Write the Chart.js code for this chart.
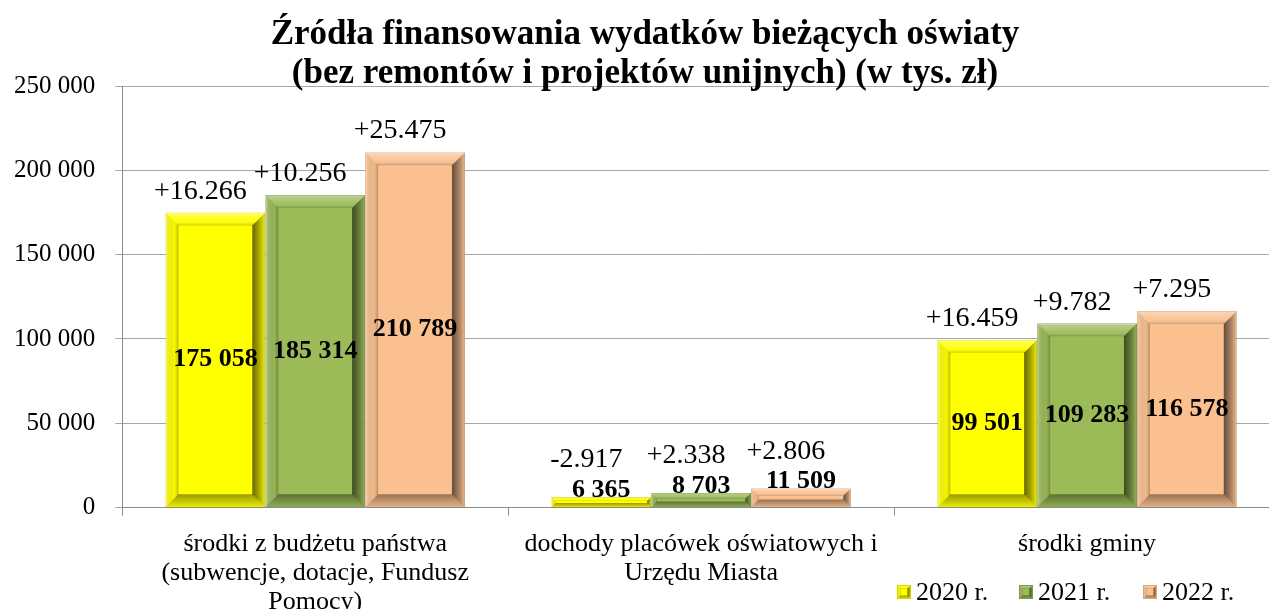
<!DOCTYPE html>
<html>
<head>
<meta charset="utf-8">
<script src="https://cdn.jsdelivr.net/npm/chart.js@4/dist/chart.umd.min.js"></script>
<style>
  html, body { margin: 0; padding: 0; background: #fff; overflow: hidden; }
  #wrap { position: relative; width: 1290px; height: 631px; }
</style>
</head>
<body>
<div id="wrap"><canvas id="chart"></canvas></div>
<script>
// data
const categories = [
  ["środki z budżetu państwa", "(subwencje, dotacje, Fundusz", "Pomocy)"],
  ["dochody placówek oświatowych i", "Urzędu Miasta"],
  ["środki gminy"]
];
const years = ["2020 r.", "2021 r.", "2022 r."];
const values2020 = [175058, 6365, 99501];
const values2021 = [185314, 8703, 109283];
const values2022 = [210789, 11509, 116578];
const changes2020 = ["+16.266", "-2.917", "+16.459"];
const changes2021 = ["+10.256", "+2.338", "+9.782"];
const changes2022 = ["+25.475", "+2.806", "+7.295"];
const titleLines = ["Źródła finansowania wydatków bieżących oświaty", "(bez remontów i projektów unijnych) (w tys. zł)"];

const SERIF = "'Liberation Serif', 'Times New Roman', serif";
const fills = ["#FFFF00", "#9BBB59", "#FAC090"];
const edges = ["#D4D400", "#7E9A48", "#D9A77A"];

function fmt(v) {
  return String(v).replace(/\B(?=(\d{3})+(?!\d))/g, " ");
}

// bevelled look of the bars
function bevel(ctx, L, T, R, B) {
  const b = Math.min(13, (B - T) / 2.5, (R - L) / 4);
  ctx.save();
  // top
  let g = ctx.createLinearGradient(0, T, 0, T + b);
  g.addColorStop(0, "rgba(255,255,255,0.35)");
  g.addColorStop(0.7, "rgba(255,255,255,0.05)");
  g.addColorStop(1, "rgba(0,0,0,0.2)");
  ctx.fillStyle = g;
  ctx.beginPath();
  ctx.moveTo(L, T); ctx.lineTo(R, T); ctx.lineTo(R - b, T + b); ctx.lineTo(L + b, T + b); ctx.closePath();
  ctx.fill();
  // left
  g = ctx.createLinearGradient(L, 0, L + b, 0);
  g.addColorStop(0, "rgba(255,255,255,0.25)");
  g.addColorStop(0.7, "rgba(0,0,0,0.03)");
  g.addColorStop(1, "rgba(0,0,0,0.25)");
  ctx.fillStyle = g;
  ctx.beginPath();
  ctx.moveTo(L, T); ctx.lineTo(L + b, T + b); ctx.lineTo(L + b, B - b); ctx.lineTo(L, B); ctx.closePath();
  ctx.fill();
  // right
  g = ctx.createLinearGradient(R - b, 0, R, 0);
  g.addColorStop(0, "rgba(0,0,0,0.6)");
  g.addColorStop(0.6, "rgba(0,0,0,0.3)");
  g.addColorStop(1, "rgba(0,0,0,0.05)");
  ctx.fillStyle = g;
  ctx.beginPath();
  ctx.moveTo(R, T); ctx.lineTo(R, B); ctx.lineTo(R - b, B - b); ctx.lineTo(R - b, T + b); ctx.closePath();
  ctx.fill();
  // bottom
  g = ctx.createLinearGradient(0, B - b, 0, B);
  g.addColorStop(0, "rgba(0,0,0,0.4)");
  g.addColorStop(1, "rgba(0,0,0,0.08)");
  ctx.fillStyle = g;
  ctx.beginPath();
  ctx.moveTo(L, B); ctx.lineTo(R, B); ctx.lineTo(R - b, B - b); ctx.lineTo(L + b, B - b); ctx.closePath();
  ctx.fill();
  ctx.restore();
}

const decor = {
  id: "decor",
  afterDatasetsDraw(chart) {
    const ctx = chart.ctx;
    const changes = [changes2020, changes2021, changes2022];
    chart.data.datasets.forEach((ds, di) => {
      const meta = chart.getDatasetMeta(di);
      meta.data.forEach((bar, i) => {
        const L = bar.x - bar.width / 2, R = bar.x + bar.width / 2;
        const T = bar.y, B = bar.base;
        bevel(ctx, L, T, R, B);
        // value label
        let vy = (T + B) / 2;
        if (B - T < 40) vy = T - 7;
        ctx.save();
        ctx.fillStyle = "#000";
        ctx.textAlign = "center";
        ctx.textBaseline = "middle";
        ctx.font = "bold 26px " + SERIF;
        ctx.fillText(fmt(ds.data[i]), bar.x, vy);
        // change label
        ctx.font = "28px " + SERIF;
        const cy = Math.min(T - 21, vy - 30);
        ctx.fillText(changes[di][i], bar.x - 15, cy);
        ctx.restore();
      });
    });
  },
  afterDraw(chart) {
    const ctx = chart.ctx;
    ctx.save();
    ctx.fillStyle = "#000";
    ctx.textAlign = "center";
    ctx.textBaseline = "middle";
    ctx.font = "bold 35px " + SERIF;
    ctx.fillText(titleLines[0], 645, 35);
    ctx.fillText(titleLines[1], 645, 74);
    // legend
    ctx.font = "26px " + SERIF;
    ctx.textAlign = "left";
    const lx = [897, 1019, 1143];
    years.forEach((y, i) => {
      ctx.fillStyle = fills[i];
      ctx.fillRect(lx[i], 585, 14, 14);
      bevel(ctx, lx[i], 585, lx[i] + 14, 599);
      ctx.strokeStyle = edges[i];
      ctx.lineWidth = 1;
      ctx.strokeRect(lx[i] + 0.5, 585.5, 13, 13);
      ctx.fillStyle = "#000";
      ctx.fillText(y, lx[i] + 19, 593);
    });
    ctx.restore();
  }
};

new Chart(document.getElementById("chart"), {
  type: "bar",
  data: {
    labels: categories,
    datasets: [
      { label: years[0], data: values2020, backgroundColor: fills[0], borderColor: edges[0], borderWidth: 1 },
      { label: years[1], data: values2021, backgroundColor: fills[1], borderColor: edges[1], borderWidth: 1 },
      { label: years[2], data: values2022, backgroundColor: fills[2], borderColor: edges[2], borderWidth: 1 }
    ]
  },
  options: {
    responsive: true,
    maintainAspectRatio: false,
    animation: false,
    layout: { padding: { top: 86, left: -6, right: 10, bottom: 0 } },
    datasets: { bar: { categoryPercentage: 0.776, barPercentage: 1 } },
    plugins: { legend: { display: false }, tooltip: { enabled: false } },
    scales: {
      x: {
        grid: { offset: true, drawOnChartArea: false, drawTicks: true, tickLength: 8, color: "#8C8C8C" },
        border: { color: "#8C8C8C" },
        ticks: { color: "#000", font: { family: SERIF, size: 26, lineHeight: 1.12 }, padding: 14, maxRotation: 0, autoSkip: false }
      },
      y: {
        min: 0, max: 250000,
        grid: { color: "#A6A6A6", tickLength: 7 },
        border: { color: "#8C8C8C" },
        ticks: { stepSize: 50000, color: "#000", padding: 20, font: { family: SERIF, size: 25 }, callback: v => fmt(v) }
      }
    }
  },
  plugins: [decor]
});
</script>
</body>
</html>
